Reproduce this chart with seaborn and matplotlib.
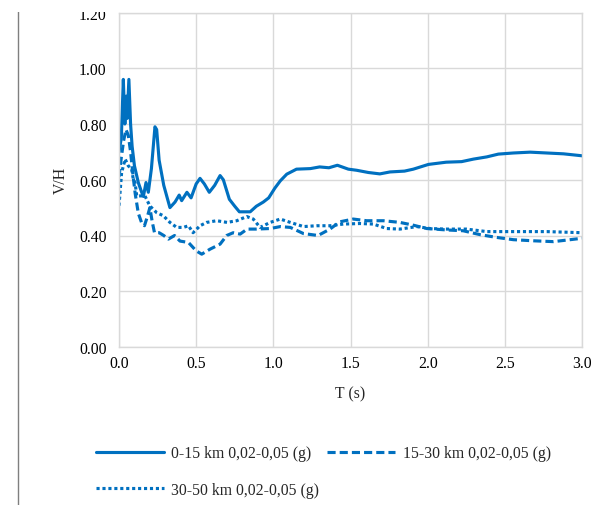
import matplotlib
matplotlib.use("Agg")
import matplotlib.pyplot as plt
from matplotlib.lines import Line2D
from matplotlib.patches import Rectangle
import seaborn as sns
import pandas as pd

# ---- data ----
t_a = [0.0, 0.015, 0.028, 0.038, 0.047, 0.053, 0.064, 0.075, 0.085, 0.10, 0.125, 0.147, 0.158,
       0.175, 0.19, 0.21, 0.233, 0.244, 0.26, 0.29, 0.32, 0.33, 0.363, 0.39, 0.406, 0.44, 0.467,
       0.5, 0.525, 0.553, 0.585, 0.62, 0.655, 0.676, 0.715, 0.75, 0.78, 0.85, 0.89, 0.935, 0.97,
       1.01, 1.045, 1.087, 1.15, 1.24, 1.30, 1.36, 1.415, 1.486, 1.54, 1.616, 1.69, 1.756, 1.85,
       1.907, 2.005, 2.12, 2.22, 2.296, 2.383, 2.458, 2.555, 2.664, 2.772, 2.88, 3.0]
v_a = [0.70, 0.75, 0.96, 0.80, 0.90, 0.82, 0.96, 0.80, 0.72, 0.65, 0.59, 0.555, 0.54,
       0.59, 0.555, 0.64, 0.79, 0.78, 0.67, 0.58, 0.52, 0.50, 0.52, 0.545, 0.525, 0.555, 0.535,
       0.585, 0.605, 0.585, 0.555, 0.58, 0.615, 0.60, 0.53, 0.505, 0.485, 0.485, 0.505, 0.52, 0.535,
       0.57, 0.596, 0.62, 0.638, 0.64, 0.646, 0.643, 0.652, 0.638, 0.634, 0.626, 0.621, 0.628, 0.631,
       0.638, 0.655, 0.663, 0.665, 0.674, 0.682, 0.692, 0.696, 0.699, 0.696, 0.693, 0.686]

t_b = [0.0, 0.015, 0.03, 0.045, 0.06, 0.075, 0.09, 0.105, 0.125, 0.147, 0.165, 0.185, 0.2,
       0.215, 0.23, 0.26, 0.29, 0.32, 0.36, 0.395, 0.45, 0.50, 0.536, 0.59, 0.655, 0.698, 0.74,
       0.785, 0.83, 0.89, 0.98, 1.045, 1.11, 1.195, 1.29, 1.367, 1.43, 1.518, 1.605, 1.713, 1.82,
       1.907, 1.994, 2.12, 2.23, 2.34, 2.448, 2.555, 2.685, 2.815, 2.923, 3.0]
v_b = [0.61, 0.68, 0.74, 0.78, 0.76, 0.70, 0.62, 0.55, 0.48, 0.445, 0.435, 0.47, 0.50,
       0.45, 0.41, 0.41, 0.40, 0.387, 0.40, 0.38, 0.375, 0.345, 0.333, 0.351, 0.369, 0.40, 0.41,
       0.405, 0.423, 0.423, 0.425, 0.432, 0.429, 0.407, 0.40, 0.423, 0.449, 0.459, 0.453, 0.453, 0.447,
       0.437, 0.425, 0.42, 0.417, 0.403, 0.393, 0.385, 0.381, 0.378, 0.385, 0.39]

t_c = [0.0, 0.017, 0.04, 0.06, 0.082, 0.093, 0.104, 0.115, 0.136, 0.168, 0.2, 0.244, 0.287,
       0.33, 0.374, 0.417, 0.45, 0.48, 0.525, 0.568, 0.633, 0.70, 0.763, 0.828, 0.87, 0.914,
       0.98, 1.045, 1.11, 1.195, 1.28, 1.367, 1.454, 1.562, 1.648, 1.735, 1.82, 1.93, 2.015,
       2.12, 2.25, 2.383, 2.555, 2.772, 3.0]
v_c = [0.507, 0.626, 0.674, 0.65, 0.638, 0.60, 0.59, 0.542, 0.542, 0.542, 0.506, 0.482, 0.471,
       0.447, 0.429, 0.429, 0.435, 0.41, 0.435, 0.447, 0.453, 0.447, 0.453, 0.468, 0.459, 0.429,
       0.447, 0.459, 0.447, 0.432, 0.435, 0.435, 0.441, 0.443, 0.441, 0.425, 0.423, 0.432, 0.425,
       0.423, 0.423, 0.414, 0.414, 0.414, 0.41]

labels = ["0-15 km 0,02-0,05 (g)", "15-30 km 0,02-0,05 (g)", "30-50 km 0,02-0,05 (g)"]
x_ticks = [0.0, 0.5, 1.0, 1.5, 2.0, 2.5, 3.0]
y_ticks = [0.0, 0.2, 0.4, 0.6, 0.8, 1.0, 1.2]

# ---- style ----
sns.set_style("white")
plt.rcParams["font.family"] = ["Liberation Serif", "DejaVu Serif"]
color = "#0070C0"
grid_c = "#D9D9D9"
fs = 11.3

fig = plt.figure(figsize=(6.10, 5.06), dpi=100)
ax = fig.add_axes([119 / 610, 1 - 348 / 506, (582 - 119) / 610, (348 - 13.5) / 506])

styles = ["-", (0, (2.6, 1.3)), (0, (1.0, 0.9))]
series = [(t_a, v_a), (t_b, v_b), (t_c, v_c)]
handles = []
for (t, v), lab, ls in zip(series, labels, styles):
    df = pd.DataFrame({"T": t, "V": v})
    sns.lineplot(data=df, x="T", y="V", ax=ax, color=color, lw=2.25, linestyle=ls, label=lab,
                 legend=False)
    handles.append(Line2D([0], [0], color=color, lw=2.25, linestyle=ls))

ax.set_xlim(0, 3.0)
ax.set_ylim(0, 1.2)
ax.set_xticks(x_ticks)
ax.set_yticks(y_ticks)
ax.set_xticklabels([f"{x:.1f}" for x in x_ticks])
ax.set_yticklabels([f"{y:.2f}" for y in y_ticks])
ax.grid(True, color=grid_c, lw=1.0)
ax.set_axisbelow(True)
for s in ax.spines.values():
    s.set_color(grid_c)
    s.set_linewidth(1.0)
ax.tick_params(axis="both", length=0, labelsize=fs, colors="black")
ax.tick_params(axis="y", pad=9)
ax.tick_params(axis="x", pad=6)
ax.set_xlabel("T (s)", fontsize=fs, labelpad=10)
ax.set_ylabel("V/H", fontsize=fs, labelpad=7)

order = [0, 2, 1]
fig.legend([handles[i] for i in order], [labels[i] for i in order], ncol=2,
           loc="upper left", bbox_to_anchor=(82 / 610, 1 - 432 / 506), frameon=False,
           fontsize=fs, handlelength=4.3, handletextpad=0.5, columnspacing=0.5,
           labelspacing=1.3)

fig.add_artist(Line2D([17.5 / 610, 17.5 / 610], [0, 1 - 12 / 506], transform=fig.transFigure,
                      color="#7F7F7F", lw=1.0))
# the source image is cropped just at the top of the plot area
fig.add_artist(Rectangle((0, 1 - 12.5 / 506), 1, 12.5 / 506, transform=fig.transFigure,
                         facecolor="white", edgecolor="none", zorder=10))

fig.savefig("out.png", dpi=100)
